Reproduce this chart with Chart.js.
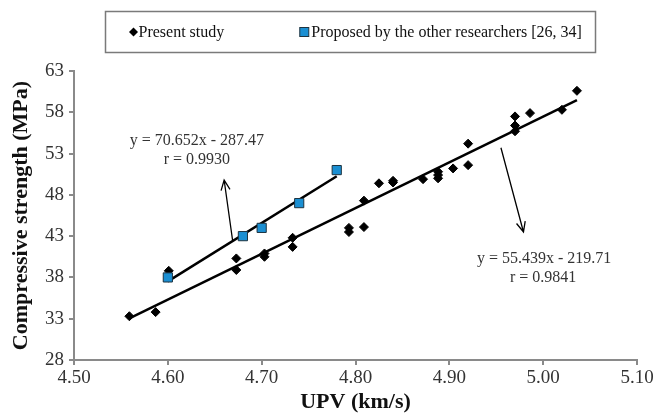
<!DOCTYPE html>
<html>
<head>
<meta charset="utf-8">
<script src="https://cdn.jsdelivr.net/npm/chart.js@4.4.1/dist/chart.umd.min.js"></script>
<style>
  html, body { margin: 0; padding: 0; background: #fff; }
  #wrap { width: 659px; height: 417px; }
</style>
</head>
<body>
<div id="wrap"><canvas id="upvChart"></canvas></div>
<script>
// UPV (km/s) vs compressive strength (MPa)
const presentUpv = [4.559, 4.587, 4.601, 4.673, 4.673, 4.703, 4.703, 4.733, 4.733, 4.793, 4.793, 4.809, 4.809, 4.825, 4.840, 4.840, 4.872, 4.888, 4.888, 4.888, 4.904, 4.920, 4.920, 4.970, 4.970, 4.970, 4.986, 5.020, 5.036];
const presentStrength = [33.3, 33.8, 38.8, 40.3, 38.9, 40.9, 40.5, 42.8, 41.7, 44.0, 43.5, 44.1, 47.3, 49.4, 49.7, 49.5, 49.9, 50.8, 50.4, 50.0, 51.2, 54.2, 51.6, 57.5, 56.4, 55.7, 57.9, 58.3, 60.6];
const otherUpv = [4.60, 4.68, 4.70, 4.74, 4.78];
const otherStrength = [38.0, 43.0, 44.0, 47.0, 51.0];

// regression lines as printed on the chart
const presentFit = [55.439, -219.71, 0.9841];   // slope, intercept, r
const otherFit = [70.652, -287.47, 0.9930];

const xTickValues = [4.50, 4.60, 4.70, 4.80, 4.90, 5.00, 5.10];
const yTickValues = [28, 33, 38, 43, 48, 53, 58, 63];

const seriesNames = ['Present study', 'Proposed by the other researchers [26, 34]'];

const SERIF = '"Liberation Serif", "Times New Roman", serif';
const BLUE = '#1b8fd2';

function points(xs, ys) {
    return xs.map((x, i) => ({ x: x, y: ys[i] }));
}

function fitLine(fit, xs) {
    const lo = Math.min(...xs), hi = Math.max(...xs);
    return [lo, hi].map(x => ({ x: x, y: fit[0] * x + fit[1] }));
}

function fmtEq(fit) {
    return 'y = ' + fit[0].toFixed(3) + 'x - ' + Math.abs(fit[1]).toFixed(2);
}

// arrows: [x1, y1, x2, y2] in data units, head at the second point
const arrows = [
    [4.669, 42.5, 4.660, 49.8],
    [4.955, 53.7, 4.979, 43.5]
];
// label anchors (centre of first line, centre of second line)
const eqLabels = [
    { fit: otherFit, at: [4.631, 54.5], at2: [4.631, 52.3] },
    { fit: presentFit, at: [5.001, 40.3], at2: [5.000, 37.9] }
];

const legendBox = {
    id: 'legendBox',
    afterDraw(chart) {
        const ctx = chart.ctx;
        ctx.save();
        ctx.font = '16px ' + SERIF;
        const w1 = ctx.measureText(seriesNames[0]).width;
        const w2 = ctx.measureText(seriesNames[1]).width;
        const total = 28 + 5 + w1 + 80 + 7 + w2 + 14;
        const left = 105.5;
        const top = 11.5, h = 41;
        ctx.strokeStyle = '#7a7a7a';
        ctx.lineWidth = 1.5;
        ctx.strokeRect(left, top, Math.round(total), h);
        const cy = top + h / 2;
        // diamond marker
        let x = left + 28;
        ctx.fillStyle = '#000';
        ctx.beginPath();
        ctx.moveTo(x, cy - 4.5); ctx.lineTo(x + 4.5, cy); ctx.lineTo(x, cy + 4.5); ctx.lineTo(x - 4.5, cy);
        ctx.closePath(); ctx.fill();
        ctx.textBaseline = 'middle';
        ctx.textAlign = 'left';
        ctx.fillStyle = '#111';
        ctx.fillText(seriesNames[0], x + 5, cy + 1);
        // square marker
        x = x + 5 + w1 + 80;
        ctx.fillStyle = BLUE;
        ctx.fillRect(x - 4.5, cy - 4.5, 9, 9);
        ctx.strokeStyle = '#1d3340';
        ctx.lineWidth = 1;
        ctx.strokeRect(x - 4.5, cy - 4.5, 9, 9);
        ctx.fillStyle = '#111';
        ctx.fillText(seriesNames[1], x + 7, cy + 1);
        ctx.restore();
    }
};

const notes = {
    id: 'notes',
    afterDatasetsDraw(chart) {
        const ctx = chart.ctx;
        const sx = chart.scales.x, sy = chart.scales.y;
        ctx.save();
        ctx.strokeStyle = '#000';
        ctx.lineWidth = 1.3;
        arrows.forEach(a => {
            const x1 = sx.getPixelForValue(a[0]), y1 = sy.getPixelForValue(a[1]);
            const x2 = sx.getPixelForValue(a[2]), y2 = sy.getPixelForValue(a[3]);
            const ang = Math.atan2(y2 - y1, x2 - x1);
            ctx.beginPath();
            ctx.moveTo(x1, y1);
            ctx.lineTo(x2, y2);
            ctx.moveTo(x2 - 11 * Math.cos(ang - 0.42), y2 - 11 * Math.sin(ang - 0.42));
            ctx.lineTo(x2, y2);
            ctx.lineTo(x2 - 11 * Math.cos(ang + 0.42), y2 - 11 * Math.sin(ang + 0.42));
            ctx.stroke();
        });
        ctx.font = '16px ' + SERIF;
        ctx.fillStyle = '#333';
        ctx.textAlign = 'center';
        ctx.textBaseline = 'middle';
        eqLabels.forEach(l => {
            ctx.fillText(fmtEq(l.fit), sx.getPixelForValue(l.at[0]), sy.getPixelForValue(l.at[1]));
            ctx.fillText('r = ' + l.fit[2].toFixed(4), sx.getPixelForValue(l.at2[0]), sy.getPixelForValue(l.at2[1]));
        });
        ctx.restore();
    }
};

const axisGrey = '#8a8a8a';

new Chart(document.getElementById('upvChart'), {
    type: 'scatter',
    data: {
        datasets: [
            {
                label: seriesNames[1],
                data: points(otherUpv, otherStrength),
                pointStyle: 'rect',
                pointRadius: 6.5,
                backgroundColor: BLUE,
                borderColor: '#1d3340',
                borderWidth: 1,
                order: 0
            },
            {
                label: seriesNames[0],
                data: points(presentUpv, presentStrength),
                pointStyle: 'rectRot',
                pointRadius: 4.5,
                backgroundColor: '#000',
                borderColor: '#000',
                borderWidth: 1,
                order: 2
            },
            {
                label: 'fit other',
                data: fitLine(otherFit, otherUpv),
                showLine: true,
                pointRadius: 0,
                borderColor: '#000',
                borderWidth: 2.5,
                order: 1
            },
            {
                label: 'fit present',
                data: fitLine(presentFit, presentUpv),
                showLine: true,
                pointRadius: 0,
                borderColor: '#000',
                borderWidth: 2.5,
                order: 1
            }
        ]
    },
    options: {
        responsive: true,
        maintainAspectRatio: false,
        animation: false,
        layout: { padding: { top: 71, right: 22, bottom: 0, left: 0 } },
        plugins: {
            legend: { display: false },
            tooltip: { enabled: false }
        },
        scales: {
            x: {
                type: 'linear',
                min: 4.5,
                max: 5.1,
                afterBuildTicks: s => { s.ticks = xTickValues.map(v => ({ value: v })); },
                afterFit: s => { s.height = 57; },
                ticks: {
                    color: '#333',
                    font: { family: SERIF, size: 19 },
                    padding: 2,
                    maxRotation: 0,
                    callback: v => v.toFixed(2)
                },
                grid: { drawOnChartArea: false, drawTicks: true, tickLength: 5, color: axisGrey, lineWidth: 2 },
                border: { color: axisGrey, width: 2 },
                title: {
                    display: true,
                    text: 'UPV (km/s)',
                    color: '#111',
                    font: { family: SERIF, size: 22, weight: 'bold' },
                    padding: { top: 0, bottom: 1 }
                }
            },
            y: {
                type: 'linear',
                min: 28,
                max: 63,
                afterBuildTicks: s => { s.ticks = yTickValues.map(v => ({ value: v })); },
                afterFit: s => { s.width = 74; },
                ticks: {
                    color: '#333',
                    font: { family: SERIF, size: 19 },
                    padding: 5
                },
                grid: { drawOnChartArea: false, drawTicks: true, tickLength: 5, color: axisGrey, lineWidth: 2 },
                border: { color: axisGrey, width: 2 },
                title: {
                    display: true,
                    text: 'Compressive strength (MPa)',
                    color: '#111',
                    font: { family: SERIF, size: 22, weight: 'bold' },
                    padding: { top: 8, bottom: 0 }
                }
            }
        }
    },
    plugins: [notes, legendBox]
});
</script>
</body>
</html>
